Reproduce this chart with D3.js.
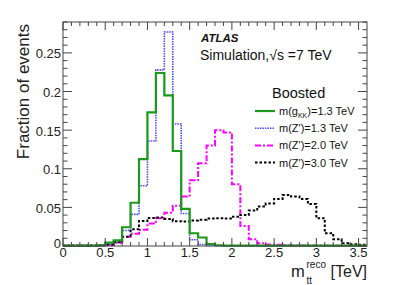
<!DOCTYPE html>
<html>
<head>
<meta charset="utf-8">
<style>
  body { margin: 0; background: #fff; }
  svg text { font-family: "Liberation Sans", Arial, sans-serif; }
</style>
</head>
<body>
<div id="chart"></div>
<script src="https://d3js.org/d3.v7.min.js"></script>
<script>
// bins of 0.1 TeV from 0 to 3.6
var binLow = 0, binWidth = 0.1;

var gkk13 = [0.0005, 0.0005, 0.0005, 0.0005, 0.001,
  0.0043, 0.0074, 0.0243, 0.056, 0.1125, 0.173, 0.224, 0.195, 0.123, 0.048,
  0.0165, 0.011, 0.0026, 0.001, 0.0006, 0.0005, 0.0005, 0.0005, 0.0005, 0.0005,
  0.0005, 0.0005, 0.0005, 0.0005, 0.0005, 0.0005, 0.0005, 0.0005, 0.0005, 0.0005, 0.0005];
var zp13 = [0.0003, 0.0003, 0.0003, 0.0003, 0.0005,
  0.002, 0.005, 0.020, 0.041, 0.078, 0.136, 0.228, 0.277, 0.158, 0.042,
  0.008, 0.002, 0.0008, 0.0003, 0.0003, 0.0003, 0.0003, 0.0003, 0.0003, 0.0003,
  0.0003, 0.0003, 0.0003, 0.0003, 0.0003, 0.0003, 0.0003, 0.0003, 0.0003, 0.0003, 0.0003];
var zp20 = [0.0003, 0.0003, 0.0003, 0.0003, 0.0005,
  0.001, 0.0043, 0.012, 0.016, 0.021, 0.029, 0.036, 0.043, 0.052, 0.064,
  0.085, 0.107, 0.130, 0.150, 0.147, 0.080, 0.026, 0.0087, 0.0035, 0.002,
  0.0015, 0.001, 0.0008, 0.0006, 0.0005, 0.0005, 0.0004, 0.0004, 0.0003, 0.0003, 0.0003];
var zp30 = [0.0005, 0.0005, 0.0005, 0.0005, 0.001,
  0.002, 0.005, 0.012, 0.0216, 0.0324, 0.0363, 0.037, 0.035, 0.032, 0.0316,
  0.033, 0.034, 0.0355, 0.036, 0.0355, 0.038, 0.040, 0.046, 0.051, 0.055,
  0.061, 0.066, 0.064, 0.061, 0.0545, 0.036, 0.0165, 0.0087, 0.0035, 0.0022, 0.0015];

var xTicks = [0, 0.5, 1, 1.5, 2, 2.5, 3, 3.5];
var yTicks = [0, 0.05, 0.1, 0.15, 0.2, 0.25];
var yTickLabels = ["0", "0.05", "0.1", "0.15", "0.2", "0.25"];

var width = 399, height = 285;
var margin = {left: 63, right: 32, top: 22, bottom: 39};

var svg = d3.select("#chart").append("svg")
    .attr("width", width)
    .attr("height", height);

var x = d3.scaleLinear().domain([0, 3.6]).range([margin.left, width - margin.right]);
var y = d3.scaleLinear().domain([0, 0.29]).range([height - margin.bottom, margin.top]);

var x0 = x.range()[0], x1 = x.range()[1], y0 = y.range()[0], y1 = y.range()[1];

// histograms
var series = [
  {data: zp13, color: "#4a4aff", width: 1.6, dash: "1.5,1"},
  {data: zp20, color: "#ff00ff", width: 2, dash: "6,2,2,2"},
  {data: zp30, color: "#000", width: 2, dash: "2.5,2"},
  {data: gkk13, color: "#1a9a1a", width: 2.2, dash: null}
];

var line = d3.line()
    .x(function(d) { return x(d[0]); })
    .y(function(d) { return y(d[1]); })
    .curve(d3.curveStepAfter);

series.forEach(function(s) {
  var pts = s.data.map(function(v, i) { return [binLow + i * binWidth, v]; });
  pts.push([binLow + s.data.length * binWidth, s.data[s.data.length - 1]]);
  svg.append("path")
      .attr("d", line(pts))
      .attr("fill", "none")
      .attr("stroke", s.color)
      .attr("stroke-width", s.width)
      .attr("stroke-dasharray", s.dash);
});

// frame
var axisColor = "#444";
svg.append("rect")
    .attr("x", x0).attr("y", y1)
    .attr("width", x1 - x0).attr("height", y0 - y1)
    .attr("fill", "none")
    .attr("stroke", axisColor)
    .attr("stroke-width", 1);

// ticks on all four sides (ROOT style)
var xMinor = d3.range(0, 36).map(function(i) { return i * 0.1; });
var yMinor = d3.range(0, 30).map(function(i) { return i * 0.01; });
var ticks = svg.append("g").attr("stroke", axisColor).attr("stroke-width", 1);

xMinor.forEach(function(v) {
  var major = Math.abs(v * 2 - Math.round(v * 2)) < 1e-6;
  var len = major ? 8 : 4;
  ticks.append("line").attr("x1", x(v)).attr("x2", x(v)).attr("y1", y0).attr("y2", y0 - len);
  ticks.append("line").attr("x1", x(v)).attr("x2", x(v)).attr("y1", y1).attr("y2", y1 + len);
});
yMinor.forEach(function(v) {
  var major = Math.abs(v * 20 - Math.round(v * 20)) < 1e-6;
  var len = major ? 9 : 4.5;
  ticks.append("line").attr("x1", x0).attr("x2", x0 + len).attr("y1", y(v)).attr("y2", y(v));
  ticks.append("line").attr("x1", x1).attr("x2", x1 - len).attr("y1", y(v)).attr("y2", y(v));
});

// tick labels
svg.append("g").selectAll("text")
    .data(xTicks).enter().append("text")
    .attr("x", function(d) { return x(d); })
    .attr("y", y0 + 10.5)
    .attr("text-anchor", "middle")
    .attr("font-size", 13)
    .attr("fill", "#222")
    .text(function(d) { return d; });

svg.append("g").selectAll("text")
    .data(yTicks).enter().append("text")
    .attr("x", x0 - 2)
    .attr("y", function(d) { return d === 0 ? y(d) + 2 : y(d) + 5.5; })
    .attr("text-anchor", "end")
    .attr("font-size", 13)
    .attr("fill", "#222")
    .text(function(d, i) { return yTickLabels[i]; });

// axis titles
svg.append("text")
    .attr("transform", "translate(29," + (y1 + 2) + ") rotate(-90)")
    .attr("text-anchor", "end")
    .attr("font-size", 17)
    .attr("fill", "#222")
    .text("Fraction of events");

// x title: m_tt^reco [TeV], pieces placed separately
var xTitle = svg.append("g").attr("fill", "#222");
xTitle.append("text").attr("x", 291).attr("y", 277).attr("font-size", 16.5).text("m");
xTitle.append("text").attr("x", 306.5).attr("y", 268).attr("font-size", 10).text("reco");
xTitle.append("text").attr("x", 306.5).attr("y", 284).attr("font-size", 10).text("tt");
xTitle.append("text").attr("x", x1).attr("y", 277).attr("font-size", 16)
    .attr("text-anchor", "end").text("[TeV]");

// ATLAS label
svg.append("text")
    .attr("x", 201).attr("y", 42)
    .attr("font-size", 11.5)
    .attr("font-weight", "bold")
    .attr("font-style", "italic")
    .attr("fill", "#111")
    .text("ATLAS");
svg.append("text")
    .attr("x", 200).attr("y", 60)
    .attr("font-size", 14)
    .attr("fill", "#111")
    .text("Simulation,\u221As =7 TeV");

// legend
svg.append("text")
    .attr("x", 272).attr("y", 98)
    .attr("font-size", 14.5)
    .attr("fill", "#111")
    .text("Boosted");

var legendItems = [
  {s: series[3], label: ["m(g", "KK", ")=1.3 TeV"]},
  {s: series[0], label: ["m(Z')=1.3 TeV"]},
  {s: series[1], label: ["m(Z')=2.0 TeV"]},
  {s: series[2], label: ["m(Z')=3.0 TeV"]}
];
legendItems.forEach(function(it, i) {
  var ly = 111 + i * 17.2;
  svg.append("line")
      .attr("x1", 255).attr("x2", 275)
      .attr("y1", ly).attr("y2", ly)
      .attr("stroke", it.s.color)
      .attr("stroke-width", it.s.width)
      .attr("stroke-dasharray", it.s.dash);
  var t = svg.append("text")
      .attr("x", 279).attr("y", ly + 4)
      .attr("font-size", 11)
      .attr("fill", "#111");
  if (it.label.length === 1) {
    t.text(it.label[0]);
  } else {
    t.append("tspan").text(it.label[0]);
    t.append("tspan").attr("font-size", 7).attr("dy", 3).text(it.label[1]);
    t.append("tspan").attr("dy", -3).text(it.label[2]);
  }
});
</script>
</body>
</html>
